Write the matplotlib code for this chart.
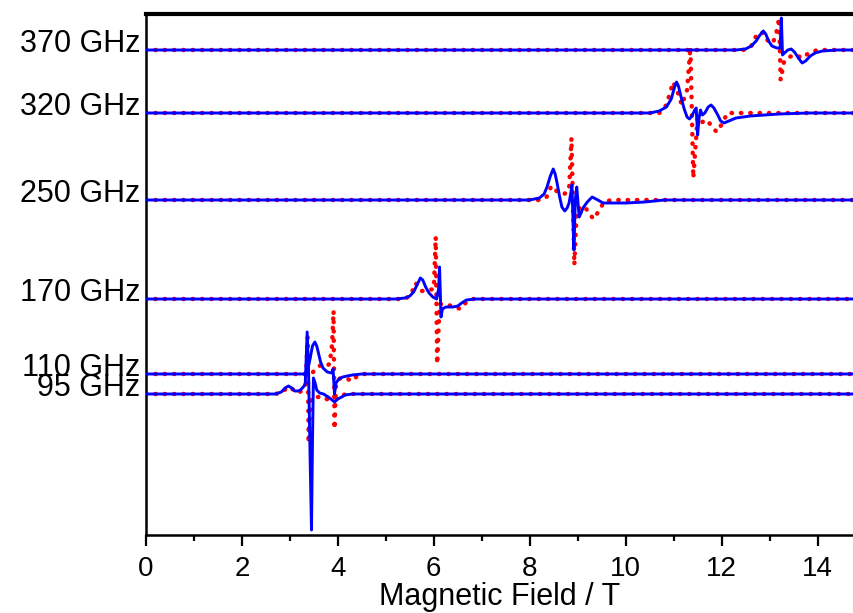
import matplotlib.pyplot as plt
from matplotlib.ticker import MultipleLocator

plt.rcParams['font.family'] = ['Liberation Sans', 'DejaVu Sans']

# frequency labels and vertical offsets of each spectrum
freq_labels = ["370 GHz", "320 GHz", "250 GHz", "170 GHz", "110 GHz", "95 GHz"]
offsets = [485, 422, 335, 236, 161, 141]

# experimental (blue) and simulated (red) spectra, field in T, signal in arb. units
b370_x = [0, 12.3, 12.5, 12.62, 12.72, 12.8, 12.87, 12.92, 12.98, 13.05, 13.15, 13.22, 13.245, 13.27,
          13.31, 13.38, 13.45, 13.52, 13.6, 13.68, 13.75, 13.85, 13.95, 14.1, 14.4, 14.8]
b370_y = [0, 0, 1, 4, 9, 15, 19, 16, 9, 4, 2, 2, 32, -5, -3, 0, 1, -2, -8, -13, -11, -6, -3, -1, 0, 0]
r370_x = [0, 12.45, 12.62, 12.75, 12.87, 12.98, 13.07, 13.14, 13.2, 13.23, 13.3, 13.4, 13.55, 13.68, 13.82, 14.0, 14.8]
r370_y = [0, 0, 4, 17, 17, 8, 7, 17, 32, -30, -12, -7, -5, -8, -3, 0, 0]

b320_x = [0, 10.5, 10.7, 10.85, 10.95, 11.02, 11.06, 11.1, 11.16, 11.22, 11.28, 11.33, 11.38, 11.44, 11.47,
          11.5, 11.53, 11.56, 11.6, 11.65, 11.72, 11.78, 11.84, 11.92, 11.98, 12.05, 12.15, 12.3, 12.6,
          13.2, 13.8, 14.8]
b320_y = [0, 0, 2, 6, 14, 26, 31, 27, 15, 4, -4, -6, -3, 3, 5, -22, -5, 3, -2, 0, 6, 8, 5, -2, -8, -10,
          -8, -5, -3, -1, 0, 0]
r320_x = [0, 10.7, 10.85, 10.99, 11.09, 11.17, 11.28, 11.35, 11.41, 11.5, 11.6, 11.7, 11.8, 11.9, 12.02, 12.12, 14.8]
r320_y = [0, 0, 8, 31, 20, 8, 23, 66, -65, -4, -9, -7, -14, -19, -10, 0, 0]

b250_x = [0, 8.0, 8.2, 8.3, 8.36, 8.43, 8.49, 8.53, 8.57, 8.62, 8.67, 8.73, 8.78, 8.82, 8.86, 8.88, 8.92,
          8.95, 8.98, 9.03, 9.07, 9.11, 9.2, 9.3, 9.42, 9.53, 9.7, 10.0, 10.4, 10.8, 14.8]
b250_y = [0, 0, 2, 6, 13, 24, 31, 26, 17, 4, -7, -11, -8, -3, 8, 15, -50, 0, 13, -17, -13, -8, -2, 3,
          0, -3, -3, -3, -2, 0, 0]
r250_x = [0, 8.2, 8.35, 8.45, 8.58, 8.72, 8.82, 8.87, 8.93, 8.98, 9.12, 9.25, 9.32, 9.4, 9.55, 9.7, 14.8]
r250_y = [0, 0, 3, 14, 8, 6, 10, 62, -65, -10, -6, -13, -19, -14, -2, 0, 0]

b170_x = [0, 5.2, 5.4, 5.5, 5.58, 5.65, 5.72, 5.77, 5.83, 5.9, 5.98, 6.06, 6.1, 6.12, 6.15, 6.18, 6.25,
          6.4, 6.5, 6.58, 6.68, 6.85, 14.8]
b170_y = [0, 0, 1, 3, 7, 14, 21, 19, 12, 6, 2, 0, 10, 32, -18, -10, -8, -8, -7, -4, -1, 0, 0]
r170_x = [0, 5.4, 5.52, 5.62, 5.75, 5.9, 6.0, 6.04, 6.07, 6.12, 6.3, 6.45, 6.55, 6.68, 6.8, 14.8]
r170_y = [0, 0, 4, 16, 8, 9, 10, 62, -65, -5, -6, -8, -10, -3, 0, 0]

b110_x = [0, 3.3, 3.37, 3.42, 3.47, 3.52, 3.56, 3.6, 3.64, 3.69, 3.78, 3.87, 3.9, 3.93, 3.96, 4.02,
          4.1, 4.3, 4.5, 14.8]
b110_y = [0, 0, 4, 15, 28, 32, 28, 20, 12, 6, 2, 1, 5, -20, -9, -5, -3, -1, 0, 0]
r110_x = [0, 3.45, 3.55, 3.65, 3.75, 3.83, 3.88, 3.91, 3.93, 3.96, 4.05, 4.2, 4.3, 4.4, 4.5, 14.8]
r110_y = [0, 0, 6, 9, 8, 10, 30, 63, -55, -10, -4, -5, -7, -2, 0, 0]

b95_x = [0, 2.7, 2.82, 2.9, 2.97, 3.04, 3.1, 3.17, 3.22, 3.28, 3.32, 3.36, 3.39, 3.42, 3.45, 3.47,
         3.49, 3.52, 3.56, 3.62, 3.7, 3.8, 3.88, 3.93, 4.0, 4.08, 4.15, 4.3, 14.8]
b95_y = [0, 0, 2, 6, 8, 6, 3, 3, 4, 7, 10, 62, 20, -60, -136, -50, 16, 12, 4, 1, 0, -3, -6, -8, -5,
         -3, -1, 0, 0]
r95_x = [0, 2.7, 2.85, 2.95, 3.05, 3.15, 3.25, 3.33, 3.37, 3.39, 3.43, 3.55, 3.7, 3.8, 3.9, 4.0, 4.2, 14.8]
r95_y = [0, 0, 2, 7, 5, 1, 3, 10, 57, -49, -5, -3, -3, -6, -5, -2, 0, 0]

exp_x = [b370_x, b320_x, b250_x, b170_x, b110_x, b95_x]
exp_y = [b370_y, b320_y, b250_y, b170_y, b110_y, b95_y]
sim_x = [r370_x, r320_x, r250_x, r170_x, r110_x, r95_x]
sim_y = [r370_y, r320_y, r250_y, r170_y, r110_y, r95_y]

fig = plt.figure(figsize=(8.54, 6.13), dpi=100)
ax = fig.add_axes([146 / 854, 1 - 535 / 613, 1 - 146 / 854, 521 / 613])

for i in range(len(offsets)):
    off = offsets[i]
    ax.plot(sim_x[i], [v + off for v in sim_y[i]], color='red', lw=3.2,
            linestyle=(0, (0.1, 2)), dash_capstyle='round', zorder=2)
    ax.plot(exp_x[i], [v + off for v in exp_y[i]], color='blue', lw=2.1, zorder=3,
            solid_joinstyle='round')
    ax.text(-0.008, off + 6, freq_labels[i], transform=ax.get_yaxis_transform(),
            ha='right', va='center', fontsize=22)

ax.set_xlim(0, 14.76)
ax.set_ylim(0, 521)
ax.set_yticks([])
ax.xaxis.set_major_locator(MultipleLocator(2))
ax.xaxis.set_minor_locator(MultipleLocator(1))
ax.tick_params(axis='x', which='major', direction='out', length=8, width=1.6, labelsize=20, pad=7)
ax.tick_params(axis='x', which='minor', direction='out', length=4, width=1.6)
ax.spines['right'].set_visible(False)
ax.spines['top'].set_linewidth(3)
ax.spines['left'].set_linewidth(1.8)
ax.spines['bottom'].set_linewidth(1.8)
ax.set_xlabel("Magnetic Field / T", fontsize=22, labelpad=0)

fig.savefig("out.png", dpi=100)
